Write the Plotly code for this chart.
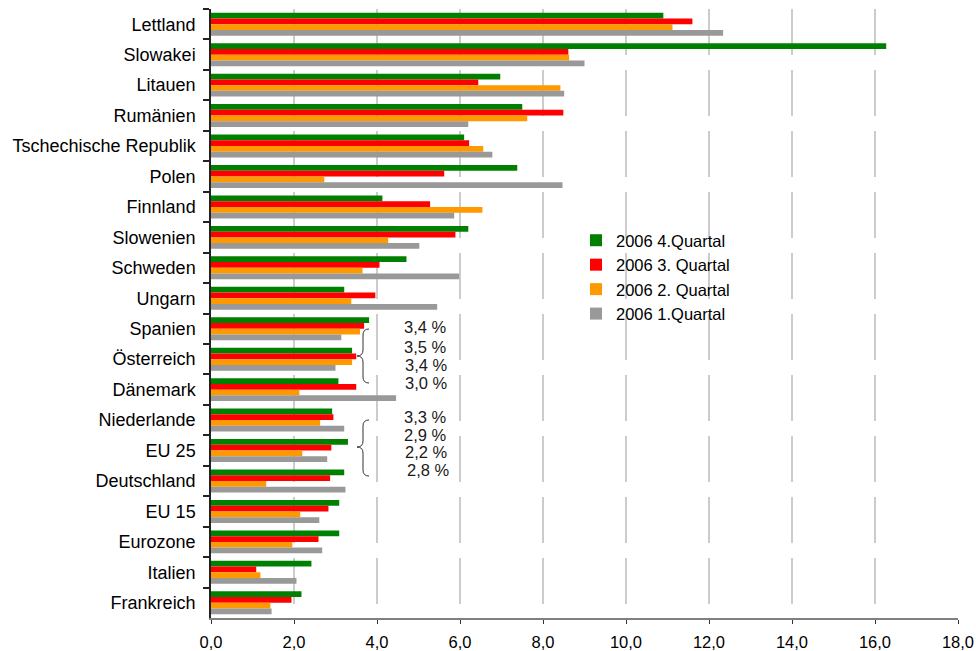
import plotly.graph_objects as go

# Countries, top to bottom
categories = [
    "Lettland", "Slowakei", "Litauen", "Rumänien", "Tschechische Republik",
    "Polen", "Finnland", "Slowenien", "Schweden", "Ungarn", "Spanien",
    "Österreich", "Dänemark", "Niederlande", "EU 25", "Deutschland",
    "EU 15", "Eurozone", "Italien", "Frankreich",
]

# Quarterly growth rates 2006 (%)
q4_2006 = [10.90, 16.27, 6.97, 7.50, 6.10, 7.38, 4.13, 6.20, 4.71, 3.21,
           3.81, 3.4, 3.07, 2.92, 3.3, 3.21, 3.09, 3.09, 2.42, 2.18]
q3_2006 = [11.60, 8.61, 6.44, 8.49, 6.22, 5.62, 5.28, 5.89, 4.06, 3.96,
           3.69, 3.5, 3.50, 2.95, 2.9, 2.87, 2.83, 2.59, 1.09, 1.94]
q2_2006 = [11.12, 8.63, 8.42, 7.62, 6.56, 2.73, 6.54, 4.27, 3.65, 3.38,
           3.59, 3.4, 2.13, 2.63, 2.2, 1.33, 2.15, 1.96, 1.19, 1.43]
q1_2006 = [12.34, 9.00, 8.51, 6.20, 6.78, 8.47, 5.86, 5.02, 5.98, 5.45,
           3.14, 3.0, 4.46, 3.21, 2.8, 3.24, 2.61, 2.68, 2.06, 1.46]

series_names = ["2006 4.Quartal", "2006 3. Quartal", "2006 2. Quartal", "2006 1.Quartal"]
series_values = [q4_2006, q3_2006, q2_2006, q1_2006]
series_colors = ["#008000", "#FF0000", "#FF9900", "#999999"]

tick_values = [0, 2, 4, 6, 8, 10, 12, 14, 16, 18]
tick_labels = ["0,0", "2,0", "4,0", "6,0", "8,0", "10,0", "12,0", "14,0", "16,0", "18,0"]

# Countries whose values are spelled out next to a brace
highlighted = ["Österreich", "EU 25"]

FONT = "Arial, Liberation Sans, sans-serif"
W, H = 976, 651
M_L, M_R, M_T, M_B = 211, 18, 9, 33
PLOT_W = W - M_L - M_R
PLOT_H = H - M_T - M_B


def px_x(px):
    return (px - M_L) / PLOT_W


def px_y(py):
    return (H - M_B - py) / PLOT_H


fig = go.Figure()
for name, vals, col in zip(series_names, series_values, series_colors):
    fig.add_trace(go.Bar(
        y=categories, x=vals, name=name, orientation="h",
        marker=dict(color=col, line=dict(width=0)),
    ))


def brace_path(x_end, x_mid, x_tip, y_top, y_tip, y_bot, r=6):
    pts = [
        f"M {px_x(x_end)},{px_y(y_top)}",
        f"Q {px_x(x_mid)},{px_y(y_top)} {px_x(x_mid)},{px_y(y_top + r)}",
        f"L {px_x(x_mid)},{px_y(y_tip - r)}",
        f"Q {px_x(x_mid)},{px_y(y_tip)} {px_x(x_tip)},{px_y(y_tip)}",
        f"Q {px_x(x_mid)},{px_y(y_tip)} {px_x(x_mid)},{px_y(y_tip + r)}",
        f"L {px_x(x_mid)},{px_y(y_bot - r)}",
        f"Q {px_x(x_mid)},{px_y(y_bot)} {px_x(x_end)},{px_y(y_bot)}",
    ]
    return " ".join(pts)


shapes = [
    dict(type="path", xref="paper", yref="paper",
         path=brace_path(369, 363, 357, 329, 356, 383),
         line=dict(color="#333333", width=1)),
    dict(type="path", xref="paper", yref="paper",
         path=brace_path(369, 363, 357, 420, 447, 476),
         line=dict(color="#333333", width=1)),
]

annotations = []
label_rows = [[327, 347, 365, 383], [417, 435, 452, 470]]
label_x = [[402, 402, 403, 403], [402, 402, 403, 405]]
for country, rows, xs in zip(highlighted, label_rows, label_x):
    idx = categories.index(country)
    for vals, yy, xx in zip(series_values, rows, xs):
        txt = f"{vals[idx]:.1f}".replace(".", ",") + " %"
        annotations.append(dict(
            text=txt, xref="paper", yref="paper", x=px_x(xx), y=px_y(yy),
            xanchor="left", yanchor="middle", showarrow=False,
            font=dict(family=FONT, size=16.5, color="#1a1a1a"),
        ))

fig.update_layout(
    width=W, height=H,
    margin=dict(l=M_L, r=M_R, t=M_T, b=M_B, pad=0, autoexpand=False),
    paper_bgcolor="white", plot_bgcolor="white",
    barmode="group", bargap=0.245, bargroupgap=0,
    font=dict(family=FONT, size=16, color="#000000"),
    showlegend=True,
    legend=dict(
        x=px_x(576), y=px_y(223), xanchor="left", yanchor="top",
        bgcolor="rgba(0,0,0,0)", borderwidth=0,
        font=dict(family=FONT, size=16.5, color="#000000"),
        traceorder="normal", itemclick=False,
    ),
    shapes=shapes,
    annotations=annotations,
    xaxis=dict(
        range=[0, 18], tickvals=tick_values, ticktext=tick_labels,
        showgrid=True, gridcolor="#cccccc", gridwidth=1.5, griddash="46px,15px",
        zeroline=False, showline=True, linecolor="#808080", linewidth=2,
        ticks="outside", ticklen=4, tickcolor="#333333", tickwidth=1,
        tickfont=dict(family=FONT, size=16.5, color="#000000"),
        ticklabelstandoff=4, automargin=False,
        fixedrange=True,
    ),
    yaxis=dict(
        type="category", categoryorder="array", categoryarray=categories,
        autorange="reversed", tickson="boundaries",
        showgrid=False, zeroline=False, showline=True, linecolor="#222222", linewidth=1.5,
        ticks="outside", ticklen=6, tickcolor="#222222", tickwidth=1.5,
        tickfont=dict(family=FONT, size=18, color="#000000"),
        ticklabelstandoff=10, automargin=False,
        fixedrange=True,
    ),
)

fig.write_html("out.html")
